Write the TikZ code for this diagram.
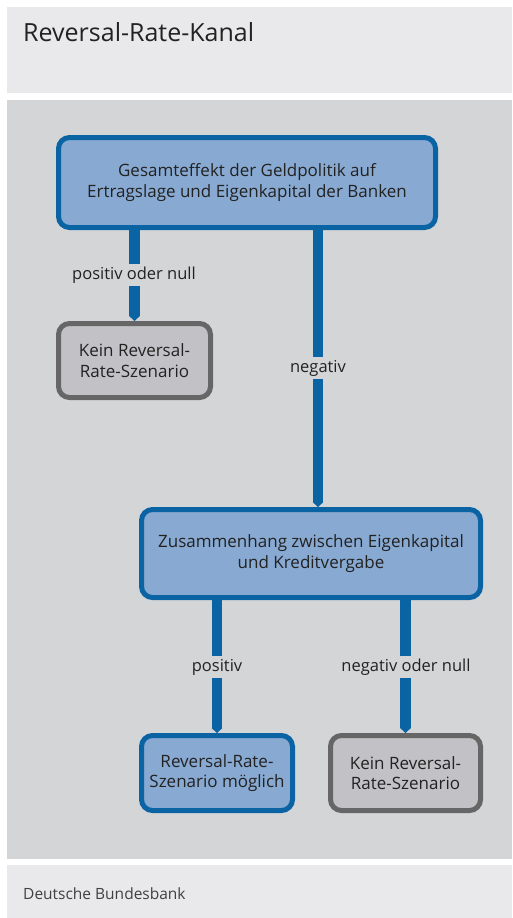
\documentclass[tikz,border=0pt]{standalone}
\usepackage{fontspec}
\setmainfont{Open Sans}
\usetikzlibrary{arrows.meta}
\definecolor{bbblue}{HTML}{0A64A4}
\definecolor{bbfill}{HTML}{88A9D1}
\definecolor{bbgray}{HTML}{666666}
\definecolor{bbgfill}{HTML}{C2C2C6}
\definecolor{panelmid}{HTML}{D4D5D7}
\definecolor{panellight}{HTML}{E9E9EB}
\definecolor{txt}{HTML}{222222}
\tikzset{
  box/.style={rectangle, rounded corners=11pt, line width=5pt, align=center,
    font=\fontsize{17}{20.5}\selectfont, text=txt, inner sep=0pt},
  bluebox/.style={box, draw=bbblue, fill=bbfill},
  graybox/.style={box, draw=bbgray, fill=bbgfill},
  conn/.style={draw=bbblue, line width=10.5pt, -{Triangle[width=10.5pt,length=5pt]}, shorten >=0pt},
  lbl/.style={fill=panelmid, font=\fontsize{16.5}{19}\selectfont, text=txt, inner xsep=2pt, inner ysep=3pt},
}
\begin{document}
\begin{tikzpicture}[x=1pt,y=-1pt]
\useasboundingbox (0,0) rectangle (512,918);
\fill[white] (0,0) rectangle (512,918);
\fill[panellight] (7,7) rectangle (512,93);
\fill[panelmid] (7,100) rectangle (512,859);
\fill[panellight] (7,865) rectangle (512,918);
\node[anchor=base west, font=\fontsize{25}{30}\selectfont, text=txt, inner sep=0pt] (title) at (23,41) {Reversal-Rate-Kanal};
\node[anchor=base west, font=\fontsize{15.5}{18}\selectfont, text=black!75, inner sep=0pt] (footer) at (23,899) {Deutsche Bundesbank};

\node[bluebox, minimum width=377pt, minimum height=90pt] (b1) at (247,182.5)
  {Gesamteffekt der Geldpolitik auf\\Ertragslage und Eigenkapital der Banken};
\node[graybox, minimum width=152pt, minimum height=74pt] (b2) at (134.5,360.5)
  {Kein Reversal-\\Rate-Szenario};
\node[bluebox, minimum width=339pt, minimum height=88pt] (b3) at (311,553.5)
  {Zusammenhang zwischen Eigenkapital\\und Kreditvergabe};
\node[bluebox, minimum width=151pt, minimum height=75pt] (b4) at (217,773)
  {Reversal-Rate-\\Szenario möglich};
\node[graybox, minimum width=150pt, minimum height=75pt] (b5) at (405.5,773)
  {Kein Reversal-\\Rate-Szenario};

\coordinate (cx) at (318,0);
\draw[conn] (b1.south -| b2.north) -- (b2.north);
\draw[conn] (b1.south -| cx) -- (b3.north -| cx);
\draw[conn] (b3.south -| b4.north) -- (b4.north);
\draw[conn] (b3.south -| b5.north) -- (b5.north);

\node[lbl] (l1) at (134,275) {positiv oder null};
\node[lbl] (l2) at (318,368) {negativ};
\node[lbl] (l3) at (217,667) {positiv};
\node[lbl] (l4) at (406,667) {negativ oder null};
\end{tikzpicture}
\end{document}
